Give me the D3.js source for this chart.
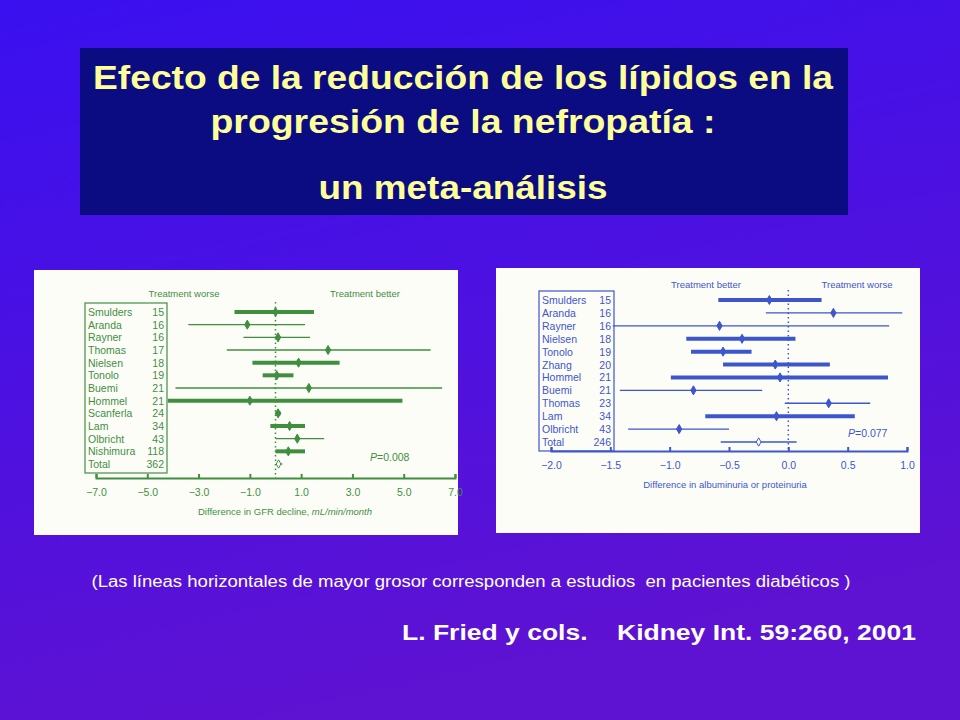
<!DOCTYPE html>
<html><head><meta charset="utf-8">
<script src="https://cdn.jsdelivr.net/npm/d3@7"></script>
<style>body{margin:0;background:#000}svg text{font-family:"Liberation Sans",Arial,sans-serif}</style>
</head><body><svg id="s" width="960" height="720"></svg>
<script>
// Left panel: GFR decline
const gfrStudies = ['Smulders','Aranda','Rayner','Thomas','Nielsen','Tonolo','Buemi','Hommel','Scanferla','Lam','Olbricht','Nishimura','Total'];
const gfrN = [15,16,16,17,18,19,21,21,24,34,43,118,362];
const gfrLo = [-1.6,-3.4,-1.25,-1.9,-0.9,-0.5,-3.9,-4.2,0,-0.2,0,0,0.05];
const gfrHi = [1.5,1.15,1.35,6.05,2.5,0.7,6.5,4.95,0.2,1.15,1.9,1.15,0.27];
const gfrPt = [0,-1.1,0.1,2.05,0.9,0.05,1.3,-1.0,0.1,0.55,0.85,0.5,0.12];
const gfrThick = [1,0,0,0,1,1,0,1,1,1,0,1,0];
const gfrTicks = [-7,-5,-3,-1,1,3,5,7];

// Right panel: albuminuria
const albStudies = ['Smulders','Aranda','Rayner','Nielsen','Tonolo','Zhang','Hommel','Buemi','Thomas','Lam','Olbricht','Total'];
const albN = [15,16,16,18,19,20,21,21,23,34,43,246];
const albLo = [-0.59,-0.19,-1.48,-0.86,-0.82,-0.55,-0.99,-1.42,-0.03,-0.7,-1.35,-0.57];
const albHi = [0.28,0.96,0.85,0.06,-0.31,0.35,0.84,-0.22,0.69,0.56,-0.5,0.07];
const albPt = [-0.16,0.38,-0.58,-0.39,-0.55,-0.11,-0.07,-0.8,0.34,-0.1,-0.92,-0.25];
const albThick = [1,0,0,1,1,1,1,0,0,1,0,0];
const albTicks = [-2,-1.5,-1,-0.5,0,0.5,1];

const svg = d3.select('#s');
const defs = svg.append('defs');
const g = defs.append('linearGradient').attr('id','bg').attr('x1',0).attr('y1',0).attr('x2',0.3).attr('y2',1);
g.append('stop').attr('offset',0).attr('stop-color','#3a10f0');
g.append('stop').attr('offset',1).attr('stop-color','#5e12d2');
svg.append('rect').attr('width',960).attr('height',720).attr('fill','url(#bg)');

// Title box
svg.append('rect').attr('x',80).attr('y',48).attr('width',768).attr('height',167).attr('fill','#0c0c82');
const titles = [['Efecto de la reducción de los lípidos en la',89,740],['progresión de la nefropatía :',133,505],['un meta-análisis',199,289]];
titles.forEach(([t,y,w]) => svg.append('text').attr('x',463).attr('y',y).attr('text-anchor','middle')
  .attr('font-size',33).attr('font-weight','bold').attr('fill','#ffff99')
  .attr('textLength',w).attr('lengthAdjust','spacingAndGlyphs').text(t));

function forest(o) {
  const p = svg.append('g');
  p.append('rect').attr('x',o.x0).attr('y',o.y0).attr('width',o.w).attr('height',o.h).attr('fill','#fdfdf8');
  const x = d3.scaleLinear().domain(o.domain).range(o.range);
  const y = d3.scaleLinear().domain([0, o.names.length-1]).range(o.rows);
  const c = o.color;
  // label box
  p.append('rect').attr('x',o.boxX).attr('y',y(0)-9).attr('width',o.boxW).attr('height',y(o.names.length-1)-y(0)+18)
    .attr('fill','none').attr('stroke',c).attr('stroke-width',1.2);
  o.names.forEach((n,i) => {
    p.append('text').attr('x',o.boxX+3).attr('y',y(i)+4).attr('font-size',10.5).attr('fill',c).text(n);
    p.append('text').attr('x',o.boxX+o.boxW-3).attr('y',y(i)+4).attr('text-anchor','end').attr('font-size',10.5).attr('fill',c).text(o.n[i]);
  });
  // zero line
  p.append('line').attr('x1',x(0)).attr('x2',x(0)).attr('y1',y(0)-10).attr('y2',o.axisY)
    .attr('stroke',c).attr('stroke-width',1.5).attr('stroke-dasharray','1.5,3');
  o.names.forEach((n,i) => {
    p.append('line').attr('x1',x(o.lo[i])).attr('x2',x(o.hi[i])).attr('y1',y(i)).attr('y2',y(i))
      .attr('stroke',c).attr('stroke-width',o.thick[i] ? 4 : 1.3);
    const last = i === o.names.length-1;
    p.append('path').attr('d',d3.symbol(d3.symbolDiamond, last ? 20 : 24)())
      .attr('transform',`translate(${x(o.pt[i])},${y(i)})`)
      .attr('fill', last ? '#fff' : c).attr('stroke',c).attr('stroke-width',1);
  });
  const ax = p.append('g').attr('transform',`translate(0,${o.axisY})`)
    .call(d3.axisBottom(x).tickValues(o.ticks).tickSize(-4).tickFormat(d => d3.format('.1f')(d).replace('-','\u2212')));
  ax.select('.domain').attr('stroke',c).attr('stroke-width',2);
  ax.selectAll('line').attr('stroke',c).attr('stroke-width',2);
  ax.selectAll('text').attr('fill',c).attr('font-size',10.5).attr('dy','1.4em');
  p.append('text').attr('x',o.xlabX).attr('y',o.axisY+37).attr('text-anchor','middle').attr('font-size',9.5).attr('fill',c).html(o.xlab);
  o.heads.forEach(([t,hx]) => p.append('text').attr('x',hx).attr('y',o.headY).attr('text-anchor','middle').attr('font-size',9.5).attr('fill',c).text(t));
  p.append('text').attr('x',o.pX).attr('y',o.pY).attr('font-size',10.5).attr('fill',c).html(o.pText);
}

forest({x0:34,y0:270,w:424,h:265,domain:[-7,7],range:[96,455],rows:[312,464],color:'#3f8f3f',
  names:gfrStudies,n:gfrN,lo:gfrLo,hi:gfrHi,pt:gfrPt,thick:gfrThick,ticks:gfrTicks,
  boxX:85,boxW:82,axisY:478,xlabX:285,xlab:'Difference in GFR decline, <tspan font-style="italic">mL/min/month</tspan>',
  heads:[['Treatment worse',184],['Treatment better',365]],headY:297,pX:370,pY:461,pText:'<tspan font-style="italic">P</tspan>=0.008'});

forest({x0:496,y0:268,w:424,h:265,domain:[-2,1],range:[551,907],rows:[300,442],color:'#3d56cc',
  names:albStudies,n:albN,lo:albLo,hi:albHi,pt:albPt,thick:albThick,ticks:albTicks,
  boxX:539,boxW:75,axisY:451,xlabX:725,xlab:'Difference in albuminuria or proteinuria',
  heads:[['Treatment better',706],['Treatment worse',857]],headY:288,pX:848,pY:437,pText:'<tspan font-style="italic">P</tspan>=0.077'});

svg.append('text').attr('x',471).attr('y',587).attr('text-anchor','middle').attr('font-size',16).attr('fill','#fff')
  .attr('textLength',759).attr('lengthAdjust','spacingAndGlyphs').attr('xml:space','preserve')
  .text('(Las líneas horizontales de mayor grosor corresponden a estudios  en pacientes diabéticos )');
svg.append('text').attr('x',916).attr('y',640).attr('text-anchor','end').attr('font-size',22).attr('font-weight','bold').attr('fill','#fff')
  .attr('textLength',514).attr('lengthAdjust','spacingAndGlyphs')
  .attr('xml:space','preserve').text('L. Fried y cols.    Kidney Int. 59:260, 2001');
</script></body></html>
